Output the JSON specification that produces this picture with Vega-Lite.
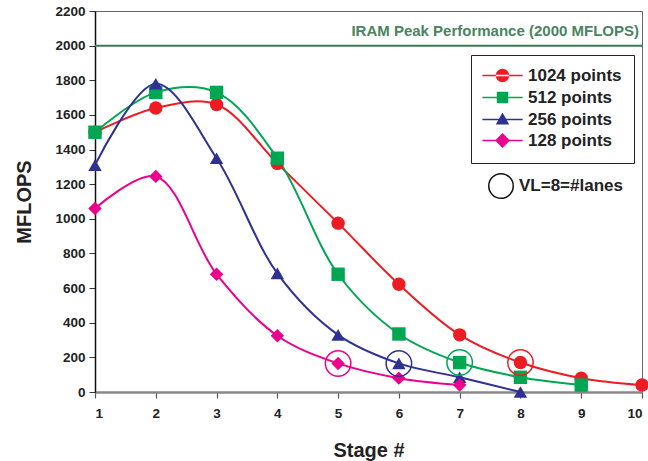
{
  "$schema": "https://vega.github.io/schema/vega-lite/v6.json",
  "width": 547,
  "height": 381,
  "autosize": {"type": "none"},
  "padding": {"left": 95, "top": 11, "right": 6, "bottom": 69},
  "background": "white",
  "config": {
    "view": {"stroke": "#666666", "strokeWidth": 1},
    "font": "Liberation Sans",
    "axis": {"grid": false, "labelFont": "Liberation Sans", "labelFontWeight": "bold", "labelFontSize": 13.5, "labelColor": "#222", "titleFont": "Liberation Sans", "titleFontWeight": "bold", "titleFontSize": 20, "titleColor": "#222", "tickColor": "#333", "tickSize": 6}
  },
  "datasets": {
    "perf": [
      {"stage": 1, "mflops": 1500, "series": "1024 points"},
      {"stage": 2, "mflops": 1640, "series": "1024 points"},
      {"stage": 3, "mflops": 1660, "series": "1024 points"},
      {"stage": 4, "mflops": 1320, "series": "1024 points"},
      {"stage": 5, "mflops": 975, "series": "1024 points"},
      {"stage": 6, "mflops": 622, "series": "1024 points"},
      {"stage": 7, "mflops": 330, "series": "1024 points"},
      {"stage": 8, "mflops": 170, "series": "1024 points"},
      {"stage": 9, "mflops": 80, "series": "1024 points"},
      {"stage": 10, "mflops": 40, "series": "1024 points"},
      {"stage": 1, "mflops": 1500, "series": "512 points"},
      {"stage": 2, "mflops": 1730, "series": "512 points"},
      {"stage": 3, "mflops": 1730, "series": "512 points"},
      {"stage": 4, "mflops": 1350, "series": "512 points"},
      {"stage": 5, "mflops": 680, "series": "512 points"},
      {"stage": 6, "mflops": 335, "series": "512 points"},
      {"stage": 7, "mflops": 170, "series": "512 points"},
      {"stage": 8, "mflops": 85, "series": "512 points"},
      {"stage": 9, "mflops": 40, "series": "512 points"},
      {"stage": 1, "mflops": 1310, "series": "256 points"},
      {"stage": 2, "mflops": 1780, "series": "256 points"},
      {"stage": 3, "mflops": 1350, "series": "256 points"},
      {"stage": 4, "mflops": 685, "series": "256 points"},
      {"stage": 5, "mflops": 330, "series": "256 points"},
      {"stage": 6, "mflops": 165, "series": "256 points"},
      {"stage": 7, "mflops": 85, "series": "256 points"},
      {"stage": 8, "mflops": 0, "series": "256 points"},
      {"stage": 1, "mflops": 1060, "series": "128 points"},
      {"stage": 2, "mflops": 1245, "series": "128 points"},
      {"stage": 3, "mflops": 680, "series": "128 points"},
      {"stage": 4, "mflops": 325, "series": "128 points"},
      {"stage": 5, "mflops": 165, "series": "128 points"},
      {"stage": 6, "mflops": 80, "series": "128 points"},
      {"stage": 7, "mflops": 40, "series": "128 points"}
    ],
    "lanes": [
      {"stage": 5, "mflops": 165, "series": "128 points", "note": "VL=8=#lanes"},
      {"stage": 6, "mflops": 165, "series": "256 points", "note": "VL=8=#lanes"},
      {"stage": 7, "mflops": 170, "series": "512 points", "note": "VL=8=#lanes"},
      {"stage": 8, "mflops": 170, "series": "1024 points", "note": "VL=8=#lanes"}
    ],
    "peak": [{"mflops": 2000, "stage": 10, "label": "IRAM Peak Performance (2000 MFLOPS)"}]
  },
  "resolve": {"scale": {"color": "independent", "shape": "independent", "opacity": "independent"}, "legend": {"color": "independent", "shape": "independent", "opacity": "independent"}},
  "layer": [
    {
      "data": {"name": "perf"},
      "mark": {"type": "line", "interpolate": "catmull-rom", "strokeWidth": 2},
      "encoding": {
        "x": {"field": "stage", "type": "quantitative", "scale": {"domain": [1, 10], "zero": false},
          "axis": {"title": "Stage #", "tickCount": 10, "format": "d", "titlePadding": 21, "labelPadding": 8, "labelOverlap": false, "domainColor": "#888888", "domainWidth": 2.5, "tickColor": "#555", "tickWidth": 1.2}},
        "y": {"field": "mflops", "type": "quantitative", "scale": {"domain": [0, 2200], "zero": true, "nice": false},
          "axis": {"title": "MFLOPS", "tickCount": 11, "format": "d", "labelOverlap": false, "labelSeparation": 0, "labelBound": false, "titlePadding": 20, "labelPadding": 4, "domainColor": "#111", "domainWidth": 1.5}},
        "color": {"field": "series", "type": "nominal", "scale": {"domain": ["1024 points", "512 points", "256 points", "128 points"], "range": ["#ed1c24", "#00a651", "#2e3192", "#ec008c"]}, "legend": null},
        "detail": {"field": "series"}
      }
    },
    {
      "data": {"name": "peak"},
      "mark": {"type": "rule", "color": "#3b7a57", "strokeWidth": 2},
      "encoding": {
        "y": {"field": "mflops", "type": "quantitative"}
      }
    },
    {
      "data": {"name": "peak"},
      "mark": {"type": "text", "align": "right", "baseline": "middle", "dx": -3, "dy": -15, "fontSize": 15, "fontWeight": "bold", "color": "#4a8462", "font": "Liberation Sans"},
      "encoding": {
        "x": {"field": "stage", "type": "quantitative"},
        "y": {"field": "mflops", "type": "quantitative"},
        "text": {"field": "label"}
      }
    },
    {
      "data": {"name": "perf"},
      "mark": {"type": "point", "filled": true, "opacity": 1},
      "encoding": {
        "x": {"field": "stage", "type": "quantitative"},
        "y": {"field": "mflops", "type": "quantitative"},
        "color": {"field": "series", "type": "nominal", "scale": {"domain": ["1024 points", "512 points", "256 points", "128 points"], "range": ["#ed1c24", "#00a651", "#2e3192", "#ec008c"]}, "legend": null},
        "shape": {"field": "series", "type": "nominal", "scale": {"domain": ["1024 points", "512 points", "256 points", "128 points"], "range": ["circle", "square", "triangle-up", "diamond"]}, "legend": null},
        "size": {"value": 180}
      }
    },
    {
      "data": {"name": "perf"},
      "transform": [{"filter": "false"}],
      "mark": {"type": "point", "filled": true, "opacity": 1},
      "encoding": {
        "x": {"field": "stage", "type": "quantitative"},
        "y": {"field": "mflops", "type": "quantitative"},
        "color": {"field": "series", "type": "nominal", "scale": {"domain": ["1024 points", "512 points", "256 points", "128 points"], "range": ["#ed1c24", "#00a651", "#2e3192", "#ec008c"]},
          "legend": {"title": null, "orient": "none", "legendX": 376, "legendY": 44, "strokeColor": "#222", "padding": 12, "labelFont": "Liberation Sans", "labelFontWeight": "bold", "labelFontSize": 17, "labelColor": "#222", "symbolSize": 180, "rowPadding": 2, "symbolOffset": 11, "labelOffset": 17, "symbolOpacity": 1}},
        "shape": {"field": "series", "type": "nominal", "scale": {"domain": ["1024 points", "512 points", "256 points", "128 points"],
          "range": [
            "M-3,-0.13H3V0.13H-3Z M-1,0A1,1 0 1,0 1,0A1,1 0 1,0 -1,0Z",
            "M-3,-0.13H3V0.13H-3Z M-0.85,-0.85H0.85V0.85H-0.85Z",
            "M-3,-0.13H3V0.13H-3Z M0,-1.05L1,0.75H-1Z",
            "M-3,-0.13H3V0.13H-3Z M0,-1.1L1.1,0L0,1.1L-1.1,0Z"
          ]},
          "legend": {"title": null, "orient": "none", "legendX": 376, "legendY": 44, "strokeColor": "#222", "padding": 12, "labelFont": "Liberation Sans", "labelFontWeight": "bold", "labelFontSize": 17, "labelColor": "#222", "symbolSize": 180, "rowPadding": 2, "symbolOffset": 11, "labelOffset": 17, "symbolOpacity": 1}},
        "size": {"value": 180}
      }
    },
    {
      "data": {"name": "lanes"},
      "mark": {"type": "point", "filled": false, "strokeWidth": 1.5, "shape": "circle"},
      "encoding": {
        "x": {"field": "stage", "type": "quantitative"},
        "y": {"field": "mflops", "type": "quantitative"},
        "color": {"field": "series", "type": "nominal", "scale": {"domain": ["1024 points", "512 points", "256 points", "128 points"], "range": ["#ed1c24", "#00a651", "#2e3192", "#ec008c"]}, "legend": null},
        "opacity": {"field": "note", "type": "nominal", "scale": {"range": [1, 1]},
          "legend": {"title": null, "orient": "none", "legendX": 393, "legendY": 162, "labelFont": "Liberation Sans", "labelFontWeight": "bold", "labelFontSize": 17, "labelColor": "#222", "symbolType": "circle", "symbolSize": 600, "symbolStrokeColor": "#111", "symbolFillColor": "transparent", "symbolStrokeWidth": 1.5, "labelOffset": 5}},
        "size": {"value": 650}
      }
    }
  ]
}
